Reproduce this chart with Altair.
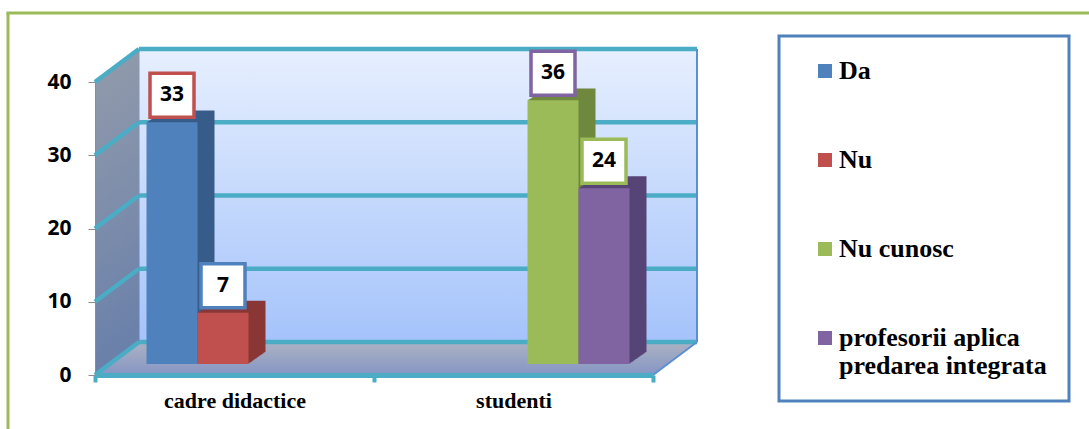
import altair as alt
import pandas as pd

# ---------------- data ----------------
categories = ["cadre didactice", "studenti"]
series = ["Da", "Nu", "Nu cunosc", "profesorii aplica predarea integrata"]
values_cadre = [33, 7, None, None]
values_studenti = [None, None, 36, 24]
y_ticks = [0, 10, 20, 30, 40]

front_colors = ["#4f81bd", "#c0504d", "#9bbb59", "#8064a2"]
side_colors = ["#385d8a", "#8a3735", "#6f883e", "#574476"]
label_border = ["#c0504d", "#4f81bd", "#8064a2", "#9bbb59"]

rows = []
for cat, vals in zip(categories, [values_cadre, values_studenti]):
    for s, v in zip(series, vals):
        if v is not None:
            rows.append({"category": cat, "series": s, "value": v})
df = pd.DataFrame(rows)

# ---------------- geometry / style ----------------
W, H = 558, 293
DX, DY = 44, 33          # depth of back wall (px)
BAR_W = 51
BDX, BDY = 14, 11        # bars placed part-way into depth
EXT = 17                 # bar extrusion depth (px)
TEAL = "#4bacc6"
EDGE = "#5b8fd0"
SERIF = "Liberation Serif"


def mix(c1, c2, t):
    a = [int(c1[i:i + 2], 16) for i in (1, 3, 5)]
    b = [int(c2[i:i + 2], 16) for i in (1, 3, 5)]
    return "#" + "".join(f"{round(x + (y - x) * t):02x}" for x, y in zip(a, b))


def vgrad(top, bottom):
    return alt.LinearGradient(
        gradient="linear",
        stops=[alt.GradientStop(color=top, offset=0), alt.GradientStop(color=bottom, offset=1)],
        x1=0, x2=0, y1=0, y2=1,
    )


y_scale = alt.Scale(domain=[0, 40], nice=False, zero=True)
x_scale = alt.Scale(domain=categories, paddingInner=0, paddingOuter=0)
color_scale = alt.Scale(domain=series, range=front_colors)

wrap = {"profesorii aplica predarea integrata": ["profesorii aplica", "predarea integrata\u2003\u2004"]}
label_expr = " : ".join(
    [f"datum.label == '{k}' ? {v!r}" for k, v in wrap.items()] + ["datum.label"]
)

x_axis = alt.Axis(title=None, labelAngle=0, tickBand="extent", zindex=1)
y_axis = alt.Axis(title=None, values=y_ticks, grid=False, zindex=1)
legend = alt.Legend(title=None, orient="none", legendX=684, legendY=-46, labelExpr=label_expr)

one = alt.Data(values=[{"o": 1}])


def ydat(v):
    return alt.YDatum(v, scale=y_scale, axis=y_axis)


def xcat():
    return alt.X("category:N", scale=x_scale, axis=x_axis)


def yval():
    return alt.Y("value:Q", scale=y_scale, axis=y_axis)


layers = []

# back wall
layers.append(
    alt.Chart(one).mark_rect(fill=vgrad("#e6effe", "#a5c3fb"), yOffset=-DY, y2Offset=-DY)
    .encode(x=alt.value(DX), x2=alt.value(W + DX), y=ydat(40), y2=alt.Y2Datum(0))
)
# left wall
for i in range(DX):
    off = -i * DY / DX
    layers.append(
        alt.Chart(one).mark_rect(fill=vgrad("#8f99ab", "#6a80aa"), yOffset=off, y2Offset=off)
        .encode(x=alt.value(i), x2=alt.value(i + 1.5), y=ydat(40), y2=alt.Y2Datum(0))
    )
# floor
for j in range(DY):
    t = j / (DY - 1)
    sx = j * DX / DY
    layers.append(
        alt.Chart(one).mark_rect(color=mix("#8696c4", "#abb2c3", t), yOffset=-j, y2Offset=-(j + 1.4))
        .encode(x=alt.value(sx), x2=alt.value(W + sx), y=ydat(0), y2=alt.Y2Datum(0))
    )
# grid lines on back wall and left wall
for v in y_ticks:
    layers.append(
        alt.Chart(one).mark_rule(color=TEAL, strokeWidth=4.5, yOffset=-DY)
        .encode(x=alt.value(DX), x2=alt.value(W + DX), y=ydat(v))
    )
    layers.append(
        alt.Chart(one).mark_rule(color=TEAL, strokeWidth=4.5, y2Offset=-DY)
        .encode(x=alt.value(0), x2=alt.value(DX), y=ydat(v), y2=alt.Y2Datum(v))
    )
# right edges
layers.append(
    alt.Chart(one).mark_rule(color=EDGE, strokeWidth=2, yOffset=-DY, y2Offset=-DY)
    .encode(x=alt.value(W + DX), y=ydat(0), y2=alt.Y2Datum(40))
)
layers.append(
    alt.Chart(one).mark_rule(color=EDGE, strokeWidth=2, y2Offset=-DY)
    .encode(x=alt.value(W), x2=alt.value(W + DX), y=ydat(0), y2=alt.Y2Datum(0))
)

# bars (3D: extruded side + front face)
for k, s in enumerate(series):
    base = alt.Chart(df).transform_filter(alt.datum.series == s)
    xo = (k - 1.5) * BAR_W + BDX
    for i in range(EXT, 0, -1):
        layers.append(
            base.mark_bar(color=side_colors[k], width=BAR_W, xOffset=xo + i,
                          yOffset=-BDY - i * 0.7, y2Offset=-BDY - i * 0.7)
            .encode(x=xcat(), y=yval())
        )
    layers.append(
        base.mark_bar(width=BAR_W, xOffset=xo, yOffset=-BDY, y2Offset=-BDY)
        .encode(x=xcat(), y=yval(),
                color=alt.Color("series:N", scale=color_scale, legend=legend))
    )

# value labels in boxes
for k, s in enumerate(series):
    base = alt.Chart(df).transform_filter(alt.datum.series == s)
    xo = (k - 1.5) * BAR_W + BDX
    layers.append(
        base.mark_square(size=44 * 44, filled=True, fill="white", stroke=label_border[k],
                         strokeWidth=3.5, opacity=1, xOffset=xo, yOffset=-BDY - 27)
        .encode(x=xcat(), y=yval())
    )
    layers.append(
        base.mark_text(font="Open Sans", fontWeight="bold", fontSize=21, color="black",
                       baseline="middle", align="center", xOffset=xo, yOffset=-BDY - 27)
        .encode(x=xcat(), y=yval(), text=alt.Text("value:Q"))
    )

# outer green frame
layers.append(
    alt.Chart(one).mark_rule(color="#9bbb59", strokeWidth=3)
    .encode(x=alt.value(-87), y=alt.value(-69), y2=alt.value(429 - 82 + 5))
)
layers.append(
    alt.Chart(one).mark_rule(color="#9bbb59", strokeWidth=3)
    .encode(x=alt.value(-88.5), x2=alt.value(1089 - 95 + 5), y=alt.value(-69))
)

chart = (
    alt.layer(*layers)
    .properties(
        width=W, height=H,
        autosize=alt.AutoSizeParams(type="none"),
        padding={"left": 95, "top": 82, "right": 1089 - 95 - W, "bottom": 429 - 82 - H},
        background="white",
    )
    .configure_view(strokeWidth=0)
    .configure_axisX(
        labelFont=SERIF, labelFontWeight="bold", labelFontSize=22, labelColor="black",
        labelPadding=8, domainColor=TEAL, domainWidth=5, tickColor=TEAL, tickWidth=4, tickSize=7,
    )
    .configure_axisY(
        labelFont="Open Sans", labelFontWeight="bold", labelFontSize=21, labelColor="black",
        labelPadding=17, tickSize=7, tickColor="#8c8c8c", domainColor="#8c8c8c", domainWidth=1,
    )
    .configure_legend(
        strokeWidth=3, strokeColor="#4f81bd", symbolType="square", symbolSize=196,
        symbolStrokeWidth=0, labelFont=SERIF, labelFontWeight="bold", labelFontSize=26,
        labelColor="black", padding=22, rowPadding=63, symbolOffset=11, labelOffset=1,
        labelLimit=500,
    )
)

chart.save("out.html", embed_options={"renderer": "svg", "actions": False})
